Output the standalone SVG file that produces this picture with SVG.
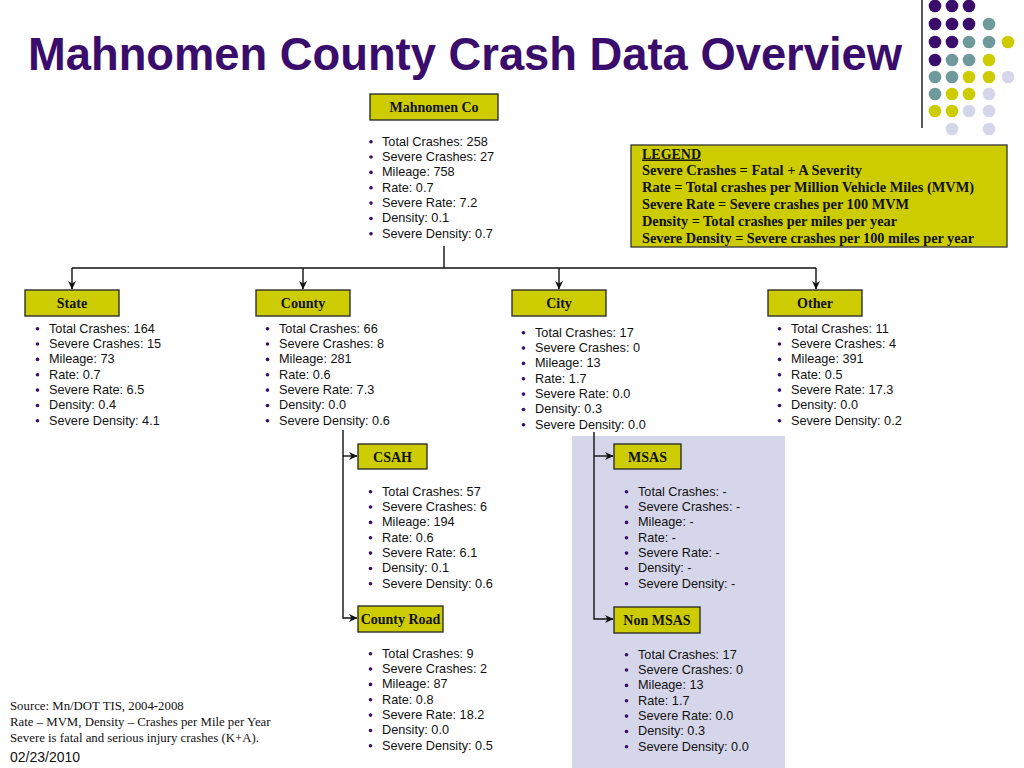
<svg xmlns="http://www.w3.org/2000/svg" xmlns:xlink="http://www.w3.org/1999/xlink" width="1024" height="768" viewBox="0 0 1024 768">
<style>
.title{font-family:"Liberation Sans",Arial,sans-serif;font-weight:bold;font-size:46px;fill:#3A0C6B}
.box{fill:#CCCC00;stroke:#222;stroke-width:1.3}
.lbl{font-family:"Liberation Serif","Times New Roman",serif;font-weight:bold;font-size:14px;fill:#111;text-anchor:middle}
.li{font-family:"Liberation Sans",Arial,sans-serif;font-size:12.7px;fill:#111}
.leg{font-family:"Liberation Serif","Times New Roman",serif;font-weight:bold;font-size:14.2px;fill:#111}
.note{font-family:"Liberation Serif","Times New Roman",serif;font-size:12.8px;fill:#111}
.date{font-family:"Liberation Sans",Arial,sans-serif;font-size:14px;fill:#111}
.conn{fill:none;stroke:#111;stroke-width:1.4}
.bul{fill:#3A0C6B}
.p{fill:#3A0C6B}.t{fill:#6F9A9C}.y{fill:#CCCC00}.l{fill:#D6D6EA}
</style>
<defs>
<marker id="arr" markerWidth="9" markerHeight="9" refX="8" refY="4.5" orient="auto" markerUnits="userSpaceOnUse">
<path d="M0,0.5 L8.5,4.5 L0,8.5 L2.5,4.5 z" fill="#111"/>
</marker>
<g id="bc">
<circle class="bul" cx="0" cy="0" r="1.8"/><circle class="bul" cx="0" cy="15.35" r="1.8"/><circle class="bul" cx="0" cy="30.7" r="1.8"/><circle class="bul" cx="0" cy="46.05" r="1.8"/><circle class="bul" cx="0" cy="61.4" r="1.8"/><circle class="bul" cx="0" cy="76.75" r="1.8"/><circle class="bul" cx="0" cy="92.1" r="1.8"/>
</g>
</defs>
<rect width="1024" height="768" fill="#fff"/>
<rect x="572" y="436" width="213" height="332" fill="#D6D6EA"/>
<text class="title" x="28" y="70" textLength="874" lengthAdjust="spacingAndGlyphs">Mahnomen County Crash Data Overview</text>
<g id="decor">
<line x1="922" y1="0" x2="922" y2="128" stroke="#222" stroke-width="1.5"/>
<circle class="p" cx="935" cy="6" r="6.3"/><circle class="p" cx="952" cy="6" r="6.3"/><circle class="p" cx="969" cy="6" r="6.3"/>
<circle class="p" cx="935" cy="24" r="6.3"/><circle class="p" cx="952" cy="24" r="6.3"/><circle class="p" cx="969" cy="24" r="6.3"/><circle class="t" cx="989" cy="24" r="6.3"/>
<circle class="p" cx="935" cy="42" r="6.3"/><circle class="p" cx="952" cy="42" r="6.3"/><circle class="t" cx="969" cy="42" r="6.3"/><circle class="t" cx="989" cy="42" r="6.3"/><circle class="y" cx="1008" cy="42" r="6.3"/>
<circle class="p" cx="935" cy="60" r="6.3"/><circle class="t" cx="952" cy="60" r="6.3"/><circle class="t" cx="969" cy="60" r="6.3"/><circle class="y" cx="989" cy="60" r="6.3"/>
<circle class="t" cx="935" cy="77" r="6.3"/><circle class="t" cx="952" cy="77" r="6.3"/><circle class="y" cx="969" cy="77" r="6.3"/><circle class="y" cx="989" cy="77" r="6.3"/><circle class="l" cx="1008" cy="77" r="6.3"/>
<circle class="t" cx="935" cy="94" r="6.3"/><circle class="y" cx="952" cy="94" r="6.3"/><circle class="y" cx="969" cy="94" r="6.3"/><circle class="l" cx="989" cy="94" r="6.3"/>
<circle class="y" cx="935" cy="111" r="6.3"/><circle class="y" cx="952" cy="111" r="6.3"/><circle class="l" cx="969" cy="111" r="6.3"/><circle class="l" cx="989" cy="111" r="6.3"/>
<circle class="l" cx="952" cy="129" r="6.3"/><circle class="l" cx="989" cy="129" r="6.3"/>
</g>
<g id="connectors">
<path class="conn" d="M444,246 V268"/>
<path class="conn" d="M72,268 H816"/>
<path class="conn" d="M72,268 V289" marker-end="url(#arr)"/>
<path class="conn" d="M303,268 V289" marker-end="url(#arr)"/>
<path class="conn" d="M559,268 V289" marker-end="url(#arr)"/>
<path class="conn" d="M816,268 V289" marker-end="url(#arr)"/>
<path class="conn" d="M343,430 V618 H357" marker-end="url(#arr)"/>
<path class="conn" d="M343,456 H357" marker-end="url(#arr)"/>
<path class="conn" d="M594,432 V619 H613" marker-end="url(#arr)"/>
<path class="conn" d="M594,456 H613" marker-end="url(#arr)"/>
</g>
<g id="mahnomen">
<rect class="box" x="370" y="94" width="128" height="26"/>
<text class="lbl" x="434" y="112">Mahnomen Co</text>
<use xlink:href="#bc" x="371" y="141.7"/>
<text class="li" x="382" y="145.5"><tspan x="382">Total Crashes: 258</tspan><tspan x="382" dy="15.35">Severe Crashes: 27</tspan><tspan x="382" dy="15.35">Mileage: 758</tspan><tspan x="382" dy="15.35">Rate: 0.7</tspan><tspan x="382" dy="15.35">Severe Rate: 7.2</tspan><tspan x="382" dy="15.35">Density: 0.1</tspan><tspan x="382" dy="15.35">Severe Density: 0.7</tspan></text>
</g>
<g id="legend">
<rect x="631" y="145" width="376" height="102" fill="#CCCC00" stroke="#333" stroke-width="1.3"/>
<text class="leg" x="642" y="158.5" text-decoration="underline" textLength="59" lengthAdjust="spacingAndGlyphs">LEGEND</text>
<text class="leg" x="642" y="175" textLength="220" lengthAdjust="spacingAndGlyphs">Severe Crashes = Fatal + A Severity</text>
<text class="leg" x="642" y="192" textLength="332" lengthAdjust="spacingAndGlyphs">Rate = Total crashes per Million Vehicle Miles (MVM)</text>
<text class="leg" x="642" y="209" textLength="267" lengthAdjust="spacingAndGlyphs">Severe Rate = Severe crashes per 100 MVM</text>
<text class="leg" x="642" y="226" textLength="255" lengthAdjust="spacingAndGlyphs">Density = Total crashes per miles per year</text>
<text class="leg" x="642" y="243" textLength="332" lengthAdjust="spacingAndGlyphs">Severe Density = Severe crashes per 100 miles per year</text>
</g>
<g id="state">
<rect class="box" x="25" y="290" width="94" height="26"/>
<text class="lbl" x="72" y="308">State</text>
<use xlink:href="#bc" x="37.5" y="328.7"/>
<text class="li" x="49" y="332.5"><tspan x="49">Total Crashes: 164</tspan><tspan x="49" dy="15.35">Severe Crashes: 15</tspan><tspan x="49" dy="15.35">Mileage: 73</tspan><tspan x="49" dy="15.35">Rate: 0.7</tspan><tspan x="49" dy="15.35">Severe Rate: 6.5</tspan><tspan x="49" dy="15.35">Density: 0.4</tspan><tspan x="49" dy="15.35">Severe Density: 4.1</tspan></text>
</g>
<g id="county">
<rect class="box" x="256" y="290" width="94" height="26"/>
<text class="lbl" x="303" y="308">County</text>
<use xlink:href="#bc" x="267.5" y="328.7"/>
<text class="li" x="279" y="332.5"><tspan x="279">Total Crashes: 66</tspan><tspan x="279" dy="15.35">Severe Crashes: 8</tspan><tspan x="279" dy="15.35">Mileage: 281</tspan><tspan x="279" dy="15.35">Rate: 0.6</tspan><tspan x="279" dy="15.35">Severe Rate: 7.3</tspan><tspan x="279" dy="15.35">Density: 0.0</tspan><tspan x="279" dy="15.35">Severe Density: 0.6</tspan></text>
</g>
<g id="city">
<rect class="box" x="512" y="290" width="94" height="26"/>
<text class="lbl" x="559" y="308">City</text>
<use xlink:href="#bc" x="523.5" y="332.7"/>
<text class="li" x="535" y="336.5"><tspan x="535">Total Crashes: 17</tspan><tspan x="535" dy="15.35">Severe Crashes: 0</tspan><tspan x="535" dy="15.35">Mileage: 13</tspan><tspan x="535" dy="15.35">Rate: 1.7</tspan><tspan x="535" dy="15.35">Severe Rate: 0.0</tspan><tspan x="535" dy="15.35">Density: 0.3</tspan><tspan x="535" dy="15.35">Severe Density: 0.0</tspan></text>
</g>
<g id="other">
<rect class="box" x="768" y="290" width="94" height="26"/>
<text class="lbl" x="815" y="308">Other</text>
<use xlink:href="#bc" x="779.5" y="328.7"/>
<text class="li" x="791" y="332.5"><tspan x="791">Total Crashes: 11</tspan><tspan x="791" dy="15.35">Severe Crashes: 4</tspan><tspan x="791" dy="15.35">Mileage: 391</tspan><tspan x="791" dy="15.35">Rate: 0.5</tspan><tspan x="791" dy="15.35">Severe Rate: 17.3</tspan><tspan x="791" dy="15.35">Density: 0.0</tspan><tspan x="791" dy="15.35">Severe Density: 0.2</tspan></text>
</g>
<g id="csah">
<rect class="box" x="358" y="444" width="69" height="25"/>
<text class="lbl" x="392.5" y="461.5">CSAH</text>
<use xlink:href="#bc" x="370.5" y="491.7"/>
<text class="li" x="382" y="495.5"><tspan x="382">Total Crashes: 57</tspan><tspan x="382" dy="15.35">Severe Crashes: 6</tspan><tspan x="382" dy="15.35">Mileage: 194</tspan><tspan x="382" dy="15.35">Rate: 0.6</tspan><tspan x="382" dy="15.35">Severe Rate: 6.1</tspan><tspan x="382" dy="15.35">Density: 0.1</tspan><tspan x="382" dy="15.35">Severe Density: 0.6</tspan></text>
</g>
<g id="countyroad">
<rect class="box" x="358" y="606" width="85" height="26"/>
<text class="lbl" x="400.5" y="624">County Road</text>
<use xlink:href="#bc" x="370.5" y="653.7"/>
<text class="li" x="382" y="657.5"><tspan x="382">Total Crashes: 9</tspan><tspan x="382" dy="15.35">Severe Crashes: 2</tspan><tspan x="382" dy="15.35">Mileage: 87</tspan><tspan x="382" dy="15.35">Rate: 0.8</tspan><tspan x="382" dy="15.35">Severe Rate: 18.2</tspan><tspan x="382" dy="15.35">Density: 0.0</tspan><tspan x="382" dy="15.35">Severe Density: 0.5</tspan></text>
</g>
<g id="msas">
<rect class="box" x="614" y="444" width="67" height="25"/>
<text class="lbl" x="647.5" y="461.5">MSAS</text>
<use xlink:href="#bc" x="626.5" y="491.7"/>
<text class="li" x="638" y="495.5"><tspan x="638">Total Crashes: -</tspan><tspan x="638" dy="15.35">Severe Crashes: -</tspan><tspan x="638" dy="15.35">Mileage: -</tspan><tspan x="638" dy="15.35">Rate: -</tspan><tspan x="638" dy="15.35">Severe Rate: -</tspan><tspan x="638" dy="15.35">Density: -</tspan><tspan x="638" dy="15.35">Severe Density: -</tspan></text>
</g>
<g id="nonmsas">
<rect class="box" x="614" y="607" width="86" height="26"/>
<text class="lbl" x="657" y="625">Non MSAS</text>
<use xlink:href="#bc" x="626.5" y="654.7"/>
<text class="li" x="638" y="658.5"><tspan x="638">Total Crashes: 17</tspan><tspan x="638" dy="15.35">Severe Crashes: 0</tspan><tspan x="638" dy="15.35">Mileage: 13</tspan><tspan x="638" dy="15.35">Rate: 1.7</tspan><tspan x="638" dy="15.35">Severe Rate: 0.0</tspan><tspan x="638" dy="15.35">Density: 0.3</tspan><tspan x="638" dy="15.35">Severe Density: 0.0</tspan></text>
</g>
<g id="notes">
<text class="note" x="10" y="710">Source: Mn/DOT TIS, 2004-2008</text>
<text class="note" x="10" y="726">Rate – MVM, Density – Crashes per Mile per Year</text>
<text class="note" x="10" y="742">Severe is fatal and serious injury crashes (K+A).</text>
<text class="date" x="10" y="762">02/23/2010</text>
</g>
</svg>
